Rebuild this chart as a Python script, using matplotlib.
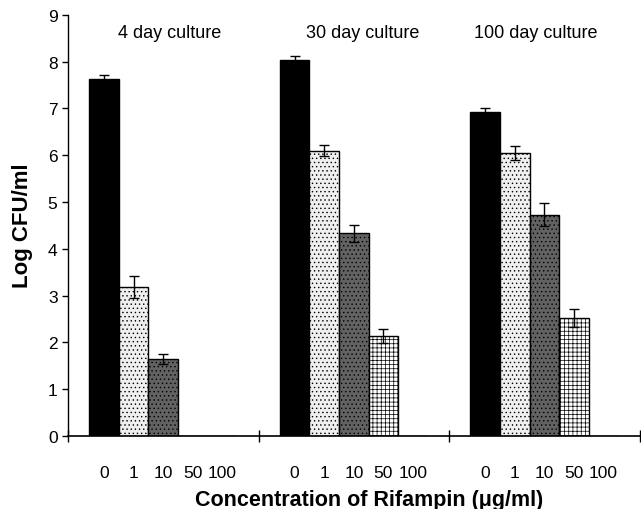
import matplotlib
matplotlib.use("Agg")
import matplotlib.pyplot as plt
import numpy as np

plt.rcParams['font.family'] = ['Liberation Sans', 'DejaVu Sans']
plt.rcParams['hatch.linewidth'] = 0.5

groups = ["4 day culture", "30 day culture", "100 day culture"]
concentrations = ["0", "1", "10", "50", "100"]
values = {
    "4 day culture":   [7.63, 3.18, 1.64, 0.0, 0.0],
    "30 day culture":  [8.03, 6.10, 4.33, 2.13, 0.0],
    "100 day culture": [6.92, 6.05, 4.73, 2.52, 0.0],
}
errors = {
    "4 day culture":   [0.08, 0.23, 0.11, 0.0, 0.0],
    "30 day culture":  [0.08, 0.12, 0.18, 0.15, 0.0],
    "100 day culture": [0.09, 0.15, 0.25, 0.19, 0.0],
}

faces = ["black", "#efefef", "#626262", "white", "white"]
hatches = [None, "....", "....", "++++", None]

fig = plt.figure(figsize=(6.41, 5.10), dpi=100)
ax = fig.add_axes([0.106, 0.143, 0.892, 0.826])

W = 6.44
m = (W - 5) / 2
title_shift = [0.2, 0.29, -0.29]
centers = []
labels = []
for g, name in enumerate(groups):
    xs = g * W + m + np.arange(5) + 0.5
    for i in range(5):
        ax.bar(xs[i], values[name][i], width=1.0, color=faces[i],
               edgecolor="black", linewidth=1.0, hatch=hatches[i], zorder=2)
    for i in range(5):
        if errors[name][i] > 0:
            ax.errorbar(xs[i], values[name][i], yerr=errors[name][i], fmt="none",
                        ecolor="black", elinewidth=1.0, capsize=3.5, capthick=1.0, zorder=3)
    centers.extend(xs)
    labels.extend(concentrations)
    ax.text(g * W + W / 2 + title_shift[g], 8.63, name, ha="center", va="center", fontsize=13)

ax.set_xlim(0, 3 * W)
ax.set_ylim(0, 9)
ax.set_yticks(range(10))
ax.set_xticks([0, W, 2 * W, 3 * W])
ax.set_xticklabels([])
ax.set_xticks(centers, minor=True)
ax.set_xticklabels(labels, minor=True)
ax.tick_params(axis="x", which="major", direction="inout", length=8, width=1)
ax.tick_params(axis="x", which="minor", length=0, pad=21, labelsize=12.5)
ax.tick_params(axis="y", direction="out", length=4, width=1, labelsize=12.5)

for s in ["top", "right"]:
    ax.spines[s].set_visible(False)
ax.spines["left"].set_linewidth(1.0)
ax.spines["bottom"].set_linewidth(1.2)

ax.set_ylabel("Log CFU/ml", fontsize=16, fontweight="bold")
ax.yaxis.label.set_va("center")
ax.yaxis.set_label_coords(-0.080, 0.501)
ax.set_xlabel("Concentration of Rifampin (\u03bcg/ml)", fontsize=15.5, fontweight="bold")
ax.xaxis.label.set_va("center")
ax.xaxis.set_label_coords(0.526, -0.150)

fig.savefig("out.png", dpi=100)
